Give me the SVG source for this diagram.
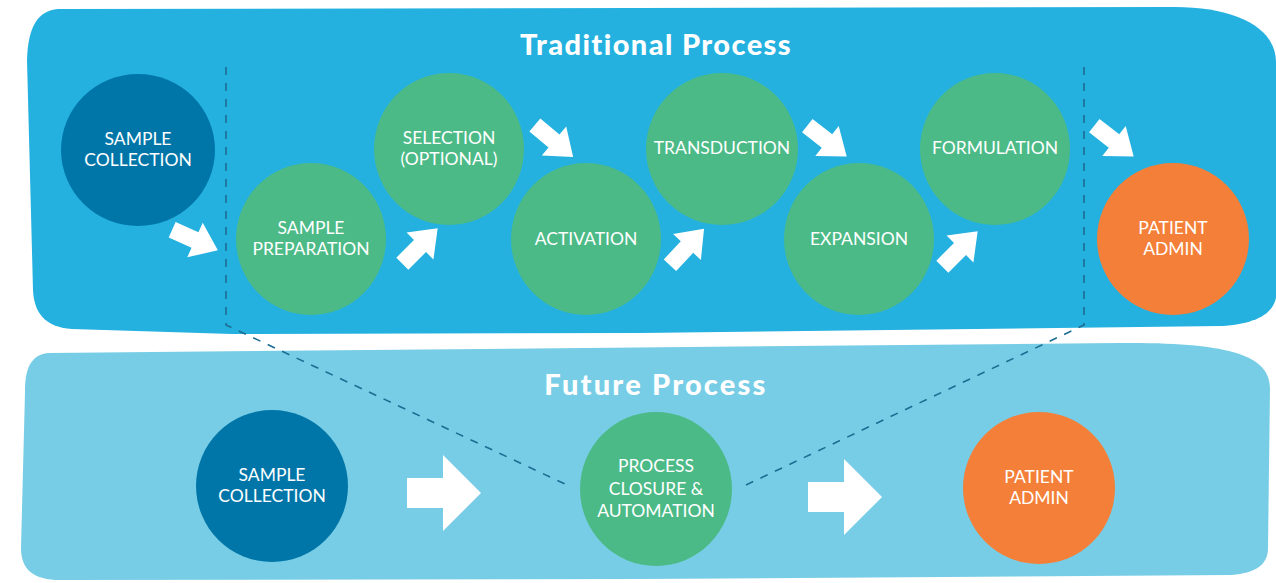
<svg xmlns="http://www.w3.org/2000/svg" width="1276" height="583" viewBox="0 0 1276 583">
  <style>
    .band-top { fill: #24b1e0; }
    .band-bottom { fill: #78cde6; }
    .collect { fill: #0076a8; }
    .step { fill: #4bba87; }
    .admin { fill: #f47f38; }
    .label { fill: #ffffff; font-family: Lato, "Liberation Sans", sans-serif; font-size: 17.5px; text-anchor: middle; }
    .title { fill: #ffffff; font-family: Lato, "Liberation Sans", sans-serif; font-weight: 900; font-size: 29px; text-anchor: middle; }
    .arrow { fill: #ffffff; }
    .guide { fill: none; stroke: #1d6d93; stroke-width: 1.6; stroke-dasharray: 8 8; }
  </style>
  <defs>
    <!-- block arrow pointing right, centred on its origin -->
    <path id="arrow-small" d="M -25,-8.5 L 0,-8.5 L 0,-19 L 25,0 L 0,19 L 0,8.5 L -25,8.5 Z"/>
    <path id="arrow-large" d="M -37,-15 L -1,-15 L -1,-38 L 37,0 L -1,38 L -1,15 L -37,15 Z"/>
  </defs>

  <rect width="1276" height="583" fill="#ffffff"/>

  <!-- process bands -->
  <path class="band-top" d="M 58,9 L 1175,7 C 1236,7 1276,28 1276,62 L 1276,298 C 1272,316 1252,324 1222,326 L 640,333 L 232,334 L 72,329 C 44,327 34,312 33,290 L 27,60 C 28,26 38,11 58,9 Z"/>
  <path class="band-bottom" d="M 48,353 L 1120,343 C 1228,342 1270,355 1270,388 L 1268,548 C 1268,566 1254,573 1232,575 L 640,579 L 60,580 C 34,580 21,570 21,548 L 25,392 C 25,368 31,355 48,353 Z"/>

  <text class="title" x="656" y="55" letter-spacing="1.4">Traditional Process</text>
  <text class="title" x="656" y="395" letter-spacing="2.2">Future Process</text>

  <!-- connectors -->
  <g id="connectors">
    <path class="guide" d="M 226,67 L 226,325 L 565,484"/>
    <path class="guide" d="M 1084,67 L 1084,325 L 746,485"/>
    <use href="#arrow-small" class="arrow" transform="translate(195,240) rotate(24)"/>
    <use href="#arrow-small" class="arrow" transform="translate(420,246) rotate(-45)"/>
    <use href="#arrow-small" class="arrow" transform="translate(554,141) rotate(40)"/>
    <use href="#arrow-small" class="arrow" transform="translate(687,247) rotate(-47)"/>
    <use href="#arrow-small" class="arrow" transform="translate(827,141) rotate(38)"/>
    <use href="#arrow-small" class="arrow" transform="translate(960,249) rotate(-45)"/>
    <use href="#arrow-small" class="arrow" transform="translate(1114,141) rotate(38)"/>
    <use href="#arrow-large" class="arrow" transform="translate(444,493)"/>
    <use href="#arrow-large" class="arrow" transform="translate(845,497)"/>
  </g>

  <!-- traditional process -->
  <g id="trad-sample-collection">
    <ellipse class="collect" cx="138" cy="150" rx="77" ry="76"/>
    <text class="label" x="138" y="145">SAMPLE</text>
    <text class="label" x="138" y="166">COLLECTION</text>
  </g>
  <g id="trad-sample-preparation">
    <ellipse class="step" cx="311" cy="239" rx="75" ry="76"/>
    <text class="label" x="311" y="234">SAMPLE</text>
    <text class="label" x="311" y="255">PREPARATION</text>
  </g>
  <g id="trad-selection">
    <ellipse class="step" cx="449" cy="149" rx="75" ry="76"/>
    <text class="label" x="449" y="144">SELECTION</text>
    <text class="label" x="449" y="165">(OPTIONAL)</text>
  </g>
  <g id="trad-activation">
    <ellipse class="step" cx="586" cy="239" rx="75" ry="76"/>
    <text class="label" x="586" y="245">ACTIVATION</text>
  </g>
  <g id="trad-transduction">
    <ellipse class="step" cx="722" cy="149" rx="76" ry="76"/>
    <text class="label" x="722" y="154">TRANSDUCTION</text>
  </g>
  <g id="trad-expansion">
    <ellipse class="step" cx="859" cy="239" rx="75" ry="76"/>
    <text class="label" x="859" y="245">EXPANSION</text>
  </g>
  <g id="trad-formulation">
    <ellipse class="step" cx="995" cy="149" rx="75" ry="76"/>
    <text class="label" x="995" y="154">FORMULATION</text>
  </g>
  <g id="trad-patient-admin">
    <ellipse class="admin" cx="1173" cy="239" rx="76" ry="76"/>
    <text class="label" x="1173" y="234">PATIENT</text>
    <text class="label" x="1173" y="255">ADMIN</text>
  </g>

  <!-- future process -->
  <g id="future-sample-collection">
    <ellipse class="collect" cx="272" cy="486" rx="76" ry="76"/>
    <text class="label" x="272" y="481">SAMPLE</text>
    <text class="label" x="272" y="502">COLLECTION</text>
  </g>
  <g id="future-process-closure">
    <ellipse class="step" cx="656" cy="489" rx="76" ry="77"/>
    <text class="label" x="656" y="472">PROCESS</text>
    <text class="label" x="656" y="495">CLOSURE &amp;</text>
    <text class="label" x="656" y="517">AUTOMATION</text>
  </g>
  <g id="future-patient-admin">
    <ellipse class="admin" cx="1039" cy="488" rx="76" ry="76"/>
    <text class="label" x="1039" y="483">PATIENT</text>
    <text class="label" x="1039" y="504">ADMIN</text>
  </g>
</svg>
